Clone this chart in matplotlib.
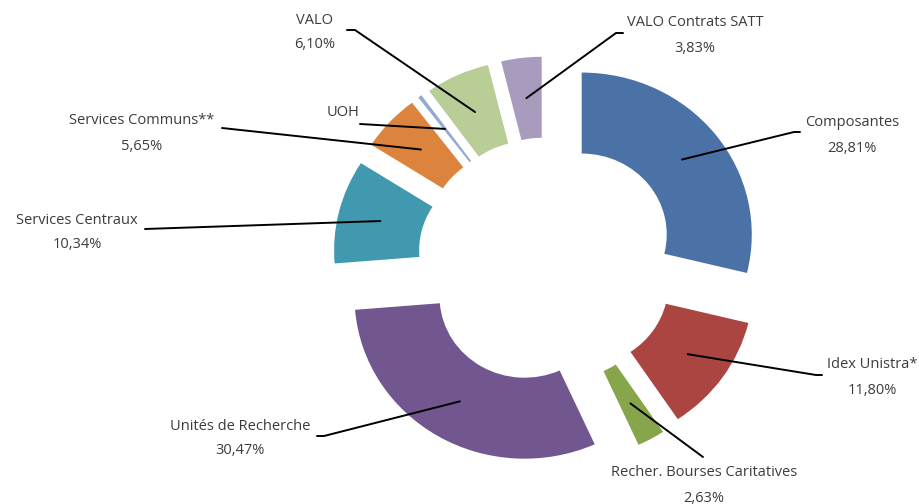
import numpy as np
import matplotlib.pyplot as plt

# donnees (en %)
noms = ['Composantes', 'Idex Unistra*', 'Recher. Bourses Caritatives', 'Unités de Recherche',
        'Services Centraux', 'Services Communs**', 'UOH', 'VALO', 'VALO Contrats SATT']
valeurs = [28.81, 11.80, 2.63, 30.47, 10.34, 5.65, 0.37, 6.10, 3.83]
afficher_valeur = [True, True, True, True, True, True, False, True, True]
couleurs = ['#4A72A7', '#AA4542', '#87A54B', '#72568F', '#4199AF',
            '#DC843D', '#93A9D0', '#B8CE96', '#A99BBE']

# mise en page (pixels, origine en haut a gauche)
W, H = 919, 504
SX = 1.05                     # le donut est un peu etire en largeur
centre = (547, 260.5)
rayon = 162
ecart = 42
pos_texte = [(852, 123), (872, 365), (704, 473), (240, 426), (77, 220),
             (142, 121), (343, 113), (315, 20), (695, 23)]
fin_ligne = [(800, 132), (822, 375), (703, 457), (317, 436), (145, 229),
             (222, 128), (360, 124), (347, 30), (623, 33)]
coude = [-6, -6, 0, 7, 0, 0, 0, 8, -7]


def px(x, y):
    return x / SX, H - y


fig = plt.figure(figsize=(W / 100, H / 100), dpi=100)
ax = fig.add_axes([0, 0, 1, 1])

cx, cy = px(*centre)
wedges, _ = ax.pie(valeurs, colors=couleurs, startangle=90, counterclock=False,
                   radius=rayon, center=(cx, cy), explode=[ecart] * len(valeurs),
                   wedgeprops=dict(width=rayon * 0.5, linewidth=0), frame=True)
# pie() impose un aspect egal, on le retire pour garder l'etirement
ax.set_aspect('auto')
ax.set_xlim(0, W / SX)
ax.set_ylim(0, H)
ax.axis('off')

for i, w in enumerate(wedges):
    # point d'ancrage au milieu du secteur
    th = np.deg2rad((w.theta1 + w.theta2) / 2)
    r = w.r - w.width / 2
    ax_x = w.center[0] + r * np.cos(th)
    ax_y = w.center[1] + r * np.sin(th)
    ex, ey = px(*fin_ligne[i])
    kx, ky = px(fin_ligne[i][0] + coude[i], fin_ligne[i][1])
    ax.plot([ax_x, kx, ex], [ax_y, ky, ey], color='black', lw=1.4, solid_capstyle='round')

    tx, ty = pos_texte[i]
    ax.text(*px(tx, ty), noms[i], ha='center', va='center', fontsize=10.5,
            color='#3c3c3c', family='Open Sans')
    if afficher_valeur[i]:
        txt = ('%.2f%%' % valeurs[i]).replace('.', ',')
        ax.text(*px(tx, ty + 25), txt, ha='center', va='center', fontsize=10.5,
                color='#3c3c3c', family='Open Sans')

fig.savefig('out.png', dpi=100, facecolor='white')
